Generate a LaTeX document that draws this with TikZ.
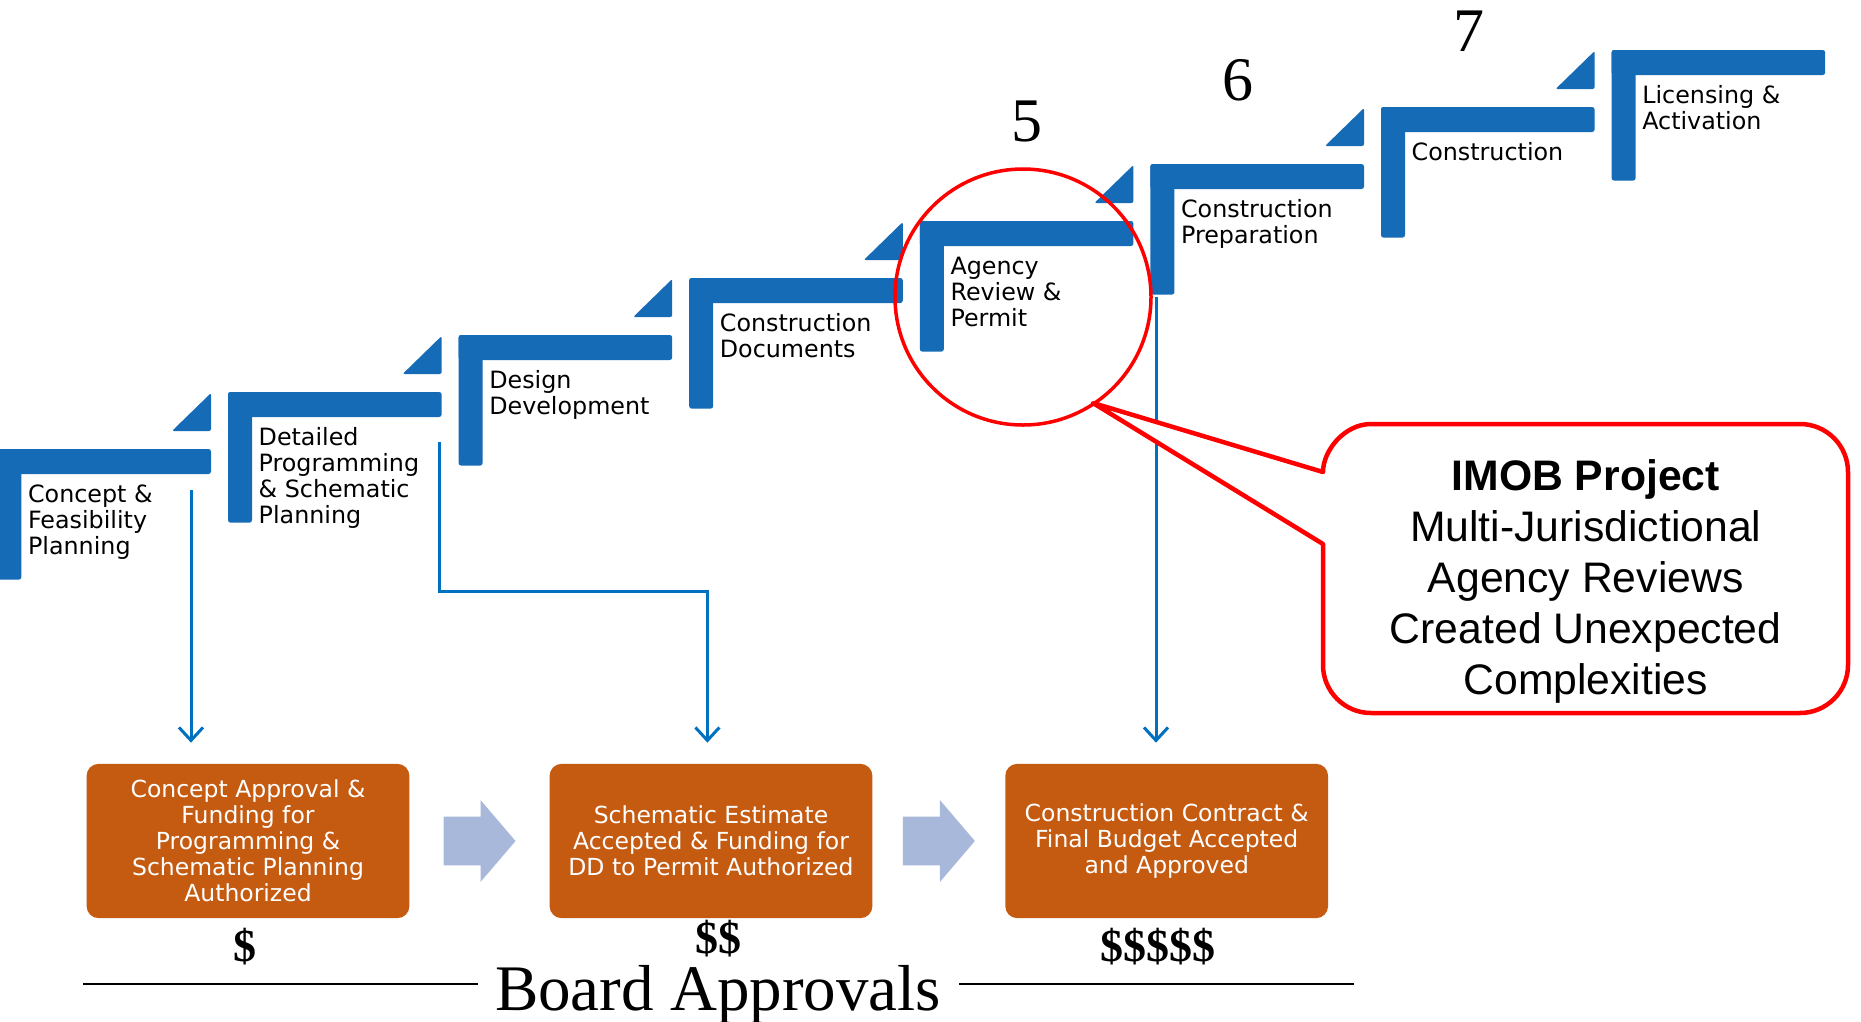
\documentclass[tikz,border=0pt]{standalone}
\usepackage{fontspec}
\newfontfamily\lblfont{DejaVu Sans}
\newfontfamily\arialfont{Liberation Sans}
\newfontfamily\timesfont{Liberation Serif}
\usetikzlibrary{arrows.meta,calc}
\definecolor{stepblue}{RGB}{22,107,183}
\definecolor{thinblue}{RGB}{0,112,192}
\definecolor{boxorange}{RGB}{197,90,17}
\definecolor{greyarrow}{RGB}{168,184,218}
\definecolor{calloutred}{RGB}{255,0,0}
\begin{document}
\begin{tikzpicture}[x=1pt,y=-1pt,
  lbl/.style={inner sep=0pt, align=left, font=\lblfont\fontsize{23.8}{26}\selectfont},
  boxstyle/.style={fill=boxorange, rounded corners=12pt, minimum width=322.8pt, minimum height=154.3pt, inner sep=0pt, align=center, text=white, font=\lblfont\fontsize{23.5}{26}\selectfont},
  thinarrow/.style={draw=thinblue, line width=3pt, -{Straight Barb[length=13pt,width=24pt,line width=3pt]}},
  bignum/.style={inner sep=0pt, font=\timesfont\fontsize{62}{62}\selectfont},
  money/.style={inner sep=0pt, font=\timesfont\bfseries\fontsize{46}{46}\selectfont},
  rulestyle/.style={draw=black, line width=2.4pt}
]
\useasboundingbox (0,0) rectangle (1861,1021);
\fill[white] (0,0) rectangle (1861,1021);

% steps (k / number of lines / label)
\foreach \k/\n/\txt in {1/3/{Concept \&\\Feasibility\\Planning},
                     2/4/{Detailed\\Programming\\\& Schematic\\Planning},
                     3/2/{Design\\Development},
                     4/2/{Construction\\Documents},
                     5/3/{Agency\\Review \&\\Permit},
                     6/2/{Construction\\Preparation},
                     7/1/{Construction},
                     8/2/{Licensing \&\\Activation}}{
  \pgfmathsetmacro\L{228+(\k-2)*230.6}
  \pgfmathsetmacro\T{392-(\k-2)*57}
  \pgfmathsetmacro\B{53+(\n-1)*26}
  \coordinate (s\k) at (\L,\T);
  \fill[stepblue, rounded corners=2.5pt] (s\k) rectangle ++(213.6,25);
  \fill[stepblue, rounded corners=2.5pt] (s\k) rectangle ++(24,130.6);
  \ifnum\k<8
    \fill[stepblue, rounded corners=2pt] ($(s\k)+(174.6,-18)$) -- ($(s\k)+(213.6,-56)$) -- ($(s\k)+(213.6,-18)$) -- cycle;
  \fi
  \node[lbl, anchor=base west] (t\k) at ($(s\k)+(30.5,\B)$) {\txt};
}

% numbers
\node[bignum, anchor=base] (n5) at (1026.7,141.7) {5};
\node[bignum, anchor=base] (n6) at (1238,100.5) {6};
\node[bignum, anchor=base] (n7) at (1469,51) {7};

% orange boxes
\node[boxstyle] (b1) at (248,841) {Concept Approval \&\\Funding for\\Programming \&\\Schematic Planning\\Authorized};
\node[boxstyle] (b2) at (711,841) {Schematic Estimate\\Accepted \& Funding for\\DD to Permit Authorized};
\node[boxstyle] (b3) at (1166.7,841) {Construction Contract \&\\Final Budget Accepted\\and Approved};

% grey arrows between boxes
\coordinate (m1) at ($(b1.east)!0.5!(b2.west)$);
\coordinate (m2) at ($(b2.east)!0.5!(b3.west)$);
\foreach \m in {m1,m2}{
  \fill[greyarrow] ($(\m)+(-36,-24.4)$) -- ($(\m)+(1,-24.4)$) -- ($(\m)+(1,-41)$) -- ($(\m)+(36,0)$)
     -- ($(\m)+(1,41)$) -- ($(\m)+(1,24.4)$) -- ($(\m)+(-36,24.4)$) -- cycle;
}

% thin blue arrows
\coordinate (a1) at (191,490);
\coordinate (a2) at (439,441.5);
\coordinate (k2) at (707.4,591);
\coordinate (a3) at (1156,297);
\draw[thinarrow] (a1) -- ($(a1 |- b1.north)+(0,-21)$);
\draw[thinarrow] (a2) |- (k2) -- ($(k2 |- b2.north)+(0,-21)$);
\draw[thinarrow] (a3) -- ($(a3 |- b3.north)+(0,-21)$);

% red circle
\node[draw=calloutred, line width=3.5pt, circle, minimum size=256pt, inner sep=0pt] (circ) at (1023,297) {};

% callout bubble
\coordinate (tip) at (1093,403);
\draw[calloutred, line width=4.5pt, line join=round, fill=white]
  (1323,544) -- (1323,665) .. controls (1323,691.5) and (1344.5,713) .. (1371,713)
  -- (1800,713) .. controls (1826.5,713) and (1848,691.5) .. (1848,665)
  -- (1848,472) .. controls (1848,445.5) and (1826.5,424) .. (1800,424)
  -- (1371,424) .. controls (1344.5,424) and (1323,450.5) .. (1323,472)
  -- (tip) -- cycle;
\node[inner sep=0pt, align=center, font=\arialfont\fontsize{42.7}{51}\selectfont] (callout) at (1585.7,581.5)
  {\textbf{IMOB Project}\\Multi-Jurisdictional\\Agency Reviews\\Created Unexpected\\Complexities};

% money
\node[money] (d1) at (244.5,947) {\$};
\node[money] (d2) at (718,939) {\$\$};
\node[money] (d3) at (1158,947) {\$\$\$\$\$};

% board approvals
\node[inner sep=0pt, anchor=base, font=\timesfont\fontsize{65}{65}\selectfont] (board) at (718,1010) {Board Approvals};
\coordinate (r1) at (83,984);
\coordinate (r2) at (478,984);
\coordinate (r3) at (959,984);
\coordinate (r4) at (1354,984);
\draw[rulestyle] (r1) -- (r2);
\draw[rulestyle] (r3) -- (r4);
\end{tikzpicture}
\end{document}
